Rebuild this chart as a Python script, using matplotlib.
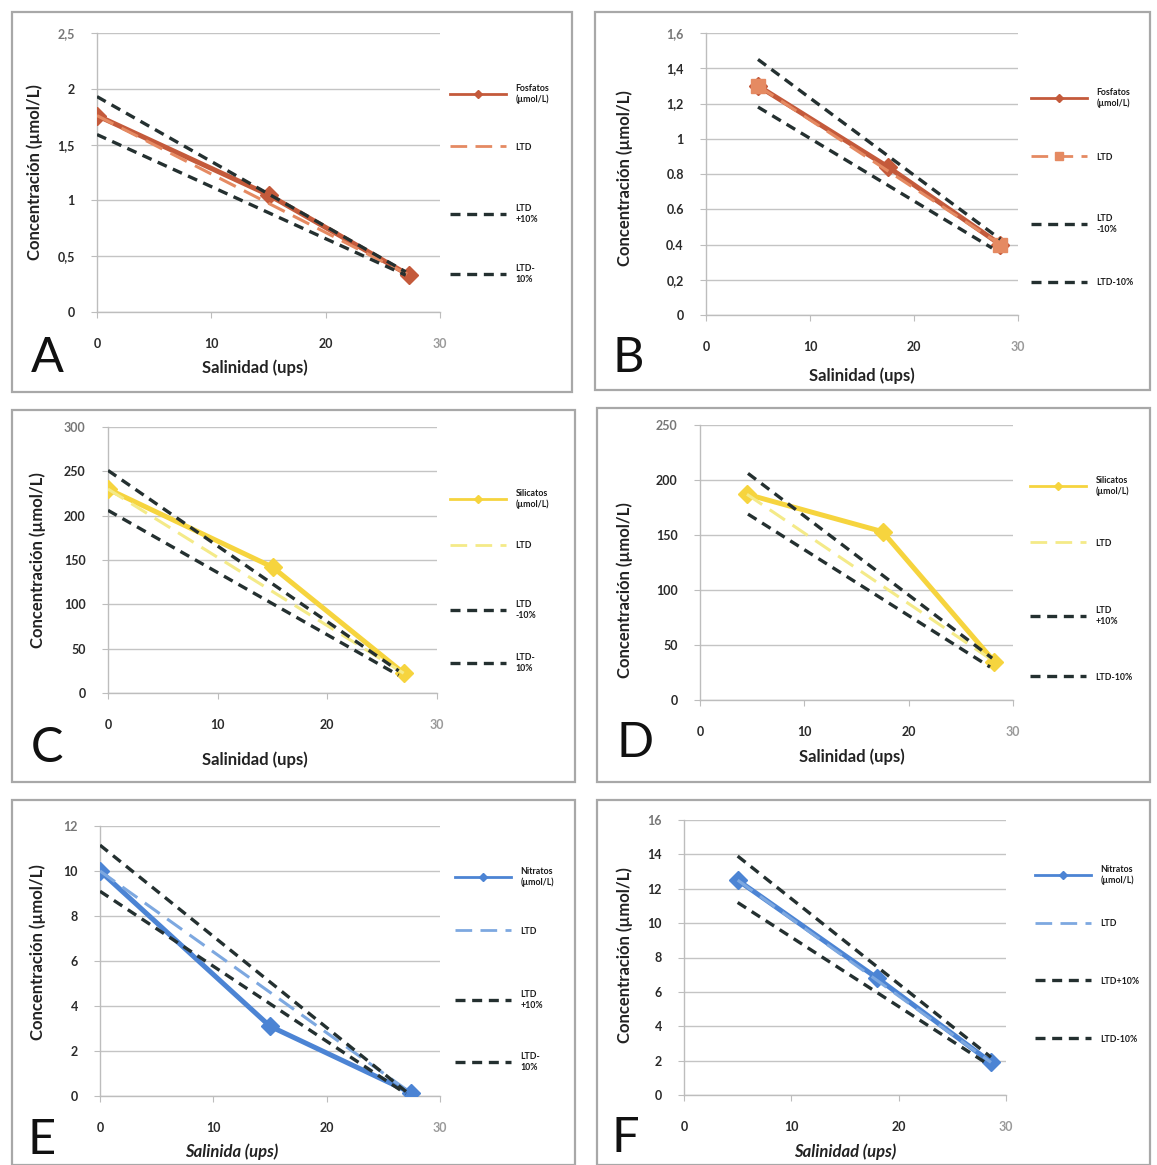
import matplotlib
matplotlib.use("Agg")
import matplotlib.pyplot as plt
from matplotlib.patches import Rectangle
from matplotlib.lines import Line2D
from matplotlib.legend import Legend

plt.rcParams['font.family'] = ['Lato', 'DejaVu Sans']

W, H = 1157, 1165

# ---------------- data ----------------
# A: Fosfatos
a_sal = [0, 15, 27.3]
a_val = [1.76, 1.05, 0.33]
a_ltd_x = [0, 27.3]
a_ltd = [1.76, 0.33]
a_hi_x = [0, 27.0]
a_hi = [1.93, 0.36]
a_lo_x = [0, 27.0]
a_lo = [1.59, 0.33]
a_yticks = [0, 0.5, 1, 1.5, 2, 2.5]
a_ylabels = ["0", "0,5", "1", "1,5", "2", "2,5"]
a_leg = ["Fosfatos\n(µmol/L)", "LTD", "LTD\n+10%", "LTD-\n10%"]

# B: Fosfatos
b_sal = [5, 17.5, 28.3]
b_val = [1.30, 0.84, 0.40]
b_ltd_x = [5, 28.3]
b_ltd = [1.30, 0.40]
b_hi_x = [5, 28.3]
b_hi = [1.45, 0.43]
b_lo_x = [5, 27.5]
b_lo = [1.18, 0.38]
b_yticks = [0, 0.2, 0.4, 0.6, 0.8, 1, 1.2, 1.4, 1.6]
b_ylabels = ["0", "0,2", "0.4", "0.6", "0.8", "1", "1,2", "1,4", "1,6"]
b_leg = ["Fosfatos\n(µmol/L)", "LTD", "LTD\n-10%", "LTD-10%"]

# C: Silicatos
c_sal = [0, 15, 27]
c_val = [230, 142, 22]
c_ltd_x = [0, 27]
c_ltd = [230, 22]
c_hi_x = [0, 26.5]
c_hi = [251, 25]
c_lo_x = [0, 26.5]
c_lo = [206, 20]
c_yticks = [0, 50, 100, 150, 200, 250, 300]
c_ylabels = ["0", "50", "100", "150", "200", "250", "300"]
c_leg = ["Silicatos\n(µmol/L)", "LTD", "LTD\n-10%", "LTD-\n10%"]

# D: Silicatos
d_sal = [4.5, 17.5, 28.2]
d_val = [187, 153, 35]
d_ltd_x = [4.5, 28.2]
d_ltd = [187, 35]
d_hi_x = [4.6, 28.0]
d_hi = [206, 38]
d_lo_x = [4.6, 27.8]
d_lo = [169, 30]
d_yticks = [0, 50, 100, 150, 200, 250]
d_ylabels = ["0", "50", "100", "150", "200", "250"]
d_leg = ["Silicatos\n(µmol/L)", "LTD", "LTD\n+10%", "LTD-10%"]

# E: Nitratos
e_sal = [0, 15, 27.4]
e_val = [10.0, 3.1, 0.15]
e_ltd_x = [0, 27.4]
e_ltd = [10.0, 0.15]
e_hi_x = [0, 27.0]
e_hi = [11.15, 0.2]
e_lo_x = [0, 27.0]
e_lo = [9.1, 0.1]
e_yticks = [0, 2, 4, 6, 8, 10, 12]
e_ylabels = ["0", "2", "4", "6", "8", "10", "12"]
e_leg = ["Nitratos\n(µmol/L)", "LTD", "LTD\n+10%", "LTD-\n10%"]

# F: Nitratos
f_sal = [5, 18, 28.6]
f_val = [12.5, 6.8, 1.9]
f_ltd_x = [5, 28.6]
f_ltd = [12.5, 1.9]
f_hi_x = [5, 28.6]
f_hi = [13.9, 2.2]
f_lo_x = [5, 28.3]
f_lo = [11.2, 1.8]
f_yticks = [0, 2, 4, 6, 8, 10, 12, 14, 16]
f_ylabels = ["0", "2", "4", "6", "8", "10", "12", "14", "16"]
f_leg = ["Nitratos\n(µmol/L)", "LTD", "LTD+10%", "LTD-10%"]

x_ticks = [0, 10, 20, 30]
x_labels = ["0", "10", "20", "30"]

# ---------------- styling / layout ----------------
RED = "#C45A3B"
RED_L = "#E58A62"
YEL = "#F6D43E"
YEL_L = "#F4EA88"
BLU = "#4C84D4"
BLU_L = "#7DA8E0"
DK = "#243030"

fig = plt.figure(figsize=(W / 100, H / 100), dpi=100)


def fx(x):
    return x / W


def fy(y):
    return 1 - y / H


# frames of each panel (pixel boxes)
frames = [(12, 12, 572, 392), (595, 12, 1150, 390), (12, 410, 575, 782),
          (597, 408, 1150, 782), (12, 800, 575, 1165), (597, 800, 1150, 1165)]
for (x0, y0, x1, y1) in frames:
    fig.add_artist(Rectangle((fx(x0), fy(y1)), (x1 - x0) / W, (y1 - y0) / H,
                             transform=fig.transFigure, fill=False,
                             edgecolor="#a8a8a8", lw=1.6))

panels = [
    dict(box=(97, 33, 440, 312), ymax=2.5, sal=a_sal, val=a_val, ltdx=a_ltd_x, ltd=a_ltd,
         hix=a_hi_x, hi=a_hi, lox=a_lo_x, lo=a_lo, yt=a_yticks, yl=a_ylabels, leg=a_leg,
         c=RED, cl=RED_L, ltdm=None, letter="A", lpos=(47, 358), xlab="Salinidad (ups)",
         xlpos=(255, 368), ylpos=(35, 172), legx=450, legy=[94, 147, 214, 274], ital=False),
    dict(box=(706, 33, 1018, 315), ymax=1.6, sal=b_sal, val=b_val, ltdx=b_ltd_x, ltd=b_ltd,
         hix=b_hi_x, hi=b_hi, lox=b_lo_x, lo=b_lo, yt=b_yticks, yl=b_ylabels, leg=b_leg,
         c=RED, cl=RED_L, ltdm="s", letter="B", lpos=(628, 358), xlab="Salinidad (ups)",
         xlpos=(862, 376), ylpos=(625, 178), legx=1031, legy=[98, 157, 224, 283], ital=False),
    dict(box=(108, 427, 437, 693), ymax=300, sal=c_sal, val=c_val, ltdx=c_ltd_x, ltd=c_ltd,
         hix=c_hi_x, hi=c_hi, lox=c_lo_x, lo=c_lo, yt=c_yticks, yl=c_ylabels, leg=c_leg,
         c=YEL, cl=YEL_L, ltdm=None, letter="C", lpos=(47, 748), xlab="Salinidad (ups)",
         xlpos=(255, 760), ylpos=(38, 560), legx=450, legy=[499, 546, 610, 663], ital=False),
    dict(box=(700, 425, 1013, 700), ymax=250, sal=d_sal, val=d_val, ltdx=d_ltd_x, ltd=d_ltd,
         hix=d_hi_x, hi=d_hi, lox=d_lo_x, lo=d_lo, yt=d_yticks, yl=d_ylabels, leg=d_leg,
         c=YEL, cl=YEL_L, ltdm=None, letter="D", lpos=(635, 743), xlab="Salinidad (ups)",
         xlpos=(852, 757), ylpos=(625, 590), legx=1030, legy=[486, 543, 616, 677], ital=False),
    dict(box=(100, 826, 440, 1096), ymax=12, sal=e_sal, val=e_val, ltdx=e_ltd_x, ltd=e_ltd,
         hix=e_hi_x, hi=e_hi, lox=e_lo_x, lo=e_lo, yt=e_yticks, yl=e_ylabels, leg=e_leg,
         c=BLU, cl=BLU_L, ltdm=None, letter="E", lpos=(42, 1140), xlab="Salinida (ups)",
         xlpos=(232, 1152), ylpos=(38, 952), legx=455, legy=[877, 931, 1000, 1062], ital=True),
    dict(box=(684, 820, 1006, 1095), ymax=16, sal=f_sal, val=f_val, ltdx=f_ltd_x, ltd=f_ltd,
         hix=f_hi_x, hi=f_hi, lox=f_lo_x, lo=f_lo, yt=f_yticks, yl=f_ylabels, leg=f_leg,
         c=BLU, cl=BLU_L, ltdm=None, letter="F", lpos=(625, 1138), xlab="Salinidad (ups)",
         xlpos=(845, 1152), ylpos=(625, 955), legx=1035, legy=[875, 924, 981, 1039], ital=True),
]

for p in panels:
    x0, y0, x1, y1 = p["box"]
    ax = fig.add_axes([fx(x0), fy(y1), (x1 - x0) / W, (y1 - y0) / H])
    ax.set_xlim(0, 30)
    ax.set_ylim(0, p["ymax"])
    for s in ("top", "right"):
        ax.spines[s].set_visible(False)
    for s in ("left", "bottom"):
        ax.spines[s].set_color("#bdbdbd")
        ax.spines[s].set_linewidth(1.0)
    ax.set_xticks(x_ticks)
    ax.set_xticklabels(x_labels)
    ax.set_yticks(p["yt"])
    ax.set_yticklabels(p["yl"])
    ax.yaxis.grid(True, color="#c4c4c4", lw=1.0)
    ax.set_axisbelow(True)
    ax.tick_params(axis="x", direction="out", length=4, color="#bdbdbd", pad=15,
                   labelsize=9, labelcolor="#2a2a2a")
    ax.tick_params(axis="y", direction="out", length=4, color="#bdbdbd", pad=12,
                   labelsize=9, labelcolor="#2a2a2a")
    for t in ax.get_xticklabels() + ax.get_yticklabels():
        t.set_fontweight("bold")
    ax.get_xticklabels()[-1].set_color("#9a9a9a")
    ax.get_yticklabels()[-1].set_color("#777777")

    h1, = ax.plot(p["sal"], p["val"], color=p["c"], lw=3.6, marker="D", ms=9,
                  solid_joinstyle="round", zorder=3)
    h2, = ax.plot(p["ltdx"], p["ltd"], color=p["cl"], lw=2.2, ls=(0, (6, 3)),
                  marker=p["ltdm"], ms=10, zorder=3)
    h3, = ax.plot(p["hix"], p["hi"], color=DK, lw=2.4, ls=(0, (3, 2)), zorder=4)
    h4, = ax.plot(p["lox"], p["lo"], color=DK, lw=2.4, ls=(0, (3, 2)), zorder=4)

    # legend entries, each placed at its own vertical position
    l1 = Line2D([], [], color=p["c"], lw=2.0, marker="D", ms=4)
    l2 = Line2D([], [], color=p["cl"], lw=2.0, ls=(0, (6, 3)),
                marker=p["ltdm"], ms=6)
    l3 = Line2D([], [], color=DK, lw=2.4, ls=(0, (3, 2)))
    l4 = Line2D([], [], color=DK, lw=2.4, ls=(0, (3, 2)))
    for hnd, lab, ly in zip([l1, l2, l3, l4], p["leg"], p["legy"]):
        lg = Legend(ax, [hnd], [lab], loc="center left",
                    bbox_to_anchor=(fx(p["legx"]), fy(ly)),
                    bbox_transform=fig.transFigure, frameon=False, borderpad=0,
                    borderaxespad=0, handlelength=6.4, handletextpad=1.1,
                    numpoints=1, prop=dict(size=6.3, weight="bold"))
        for t in lg.get_texts():
            t.set_color("#1a1a1a")
        ax.add_artist(lg)

    fig.text(fx(p["lpos"][0]), fy(p["lpos"][1]), p["letter"], fontsize=35,
             ha="center", va="center", color="#111111")
    fig.text(fx(p["xlpos"][0]), fy(p["xlpos"][1]), p["xlab"], fontsize=12,
             fontweight="bold", ha="center", va="center", color="#222222",
             style="italic" if p["ital"] else "normal")
    fig.text(fx(p["ylpos"][0]), fy(p["ylpos"][1]), "Concentración (µmol/L)",
             fontsize=12, fontweight="bold", rotation=90, ha="center", va="center",
             color="#222222")

fig.savefig("out.png", dpi=100)
